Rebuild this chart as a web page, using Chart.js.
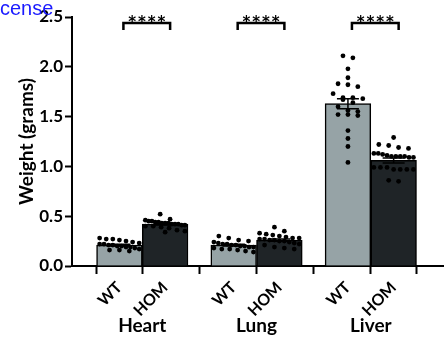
<!DOCTYPE html>
<html>
<head>
<meta charset="utf-8">
<script src="https://cdn.jsdelivr.net/npm/chart.js@4.4.1/dist/chart.umd.min.js"></script>
<style>
  html, body { margin: 0; padding: 0; background: #fff; }
  #wrap { position: relative; width: 447px; height: 339px; }
  #cut { position: absolute; left: 0; top: -3px; font: 20px "Liberation Sans", Arial, sans-serif; color: #1a1aff; }
</style>
</head>
<body>
<div id="wrap">
  <canvas id="organGraph" width="447" height="339"></canvas>
  <span id="cut">cense</span>
</div>
<script>
const organs = ["Heart", "Lung", "Liver"];
const genotypes = ["WT", "HOM"];
const wtMeans = [0.21, 0.21, 1.63];
const homMeans = [0.42, 0.26, 1.06];
const wtSem = [0.008, 0.009, 0.05];
const homSem = [0.009, 0.012, 0.025];
const yTicks = [0, 0.5, 1.0, 1.5, 2.0, 2.5];
const stars = ["****", "****", "****"];

const heartWt = [0.28, 0.27, 0.27, 0.26, 0.25, 0.24, 0.23, 0.22, 0.22, 0.21, 0.21, 0.20, 0.20, 0.19, 0.19, 0.18, 0.17, 0.16, 0.16, 0.15];
const heartHom = [0.52, 0.47, 0.46, 0.45, 0.45, 0.44, 0.44, 0.43, 0.43, 0.43, 0.42, 0.42, 0.42, 0.41, 0.41, 0.40, 0.40, 0.39, 0.38, 0.36, 0.35, 0.34];
const lungWt = [0.30, 0.28, 0.26, 0.25, 0.24, 0.23, 0.22, 0.22, 0.21, 0.21, 0.20, 0.20, 0.19, 0.19, 0.18, 0.17, 0.17, 0.16, 0.15, 0.14];
const lungHom = [0.39, 0.35, 0.33, 0.32, 0.31, 0.30, 0.29, 0.28, 0.28, 0.27, 0.27, 0.26, 0.26, 0.25, 0.25, 0.24, 0.23, 0.22, 0.21, 0.19, 0.18, 0.17];
const liverWt = [2.11, 2.09, 1.98, 1.89, 1.83, 1.82, 1.80, 1.73, 1.69, 1.69, 1.68, 1.67, 1.64, 1.60, 1.56, 1.55, 1.52, 1.52, 1.51, 1.36, 1.28, 1.20, 1.04];
const liverHom = [1.29, 1.22, 1.21, 1.19, 1.18, 1.13, 1.13, 1.12, 1.11, 1.10, 1.10, 1.10, 1.10, 1.09, 1.09, 0.99, 0.99, 0.99, 0.97, 0.97, 0.97, 0.97, 0.86, 0.85];

const wtDots = [heartWt, lungWt, liverWt];
const homDots = [heartHom, lungHom, liverHom];

// rough px per unit, only used to spread the dots sideways
const pxPerX = 115.5;
const pxPerY = 99.2;
const shift = 0.2; // half of a group, where each bar sits

function swarm(values, center) {
  const sorted = [...values].sort((a, b) => b - a);
  const rows = [];
  sorted.forEach(v => {
    const row = rows[rows.length - 1];
    if (row && (row[0] - v) * pxPerY < 5) row.push(v);
    else rows.push([v]);
  });
  const pts = [];
  rows.forEach(row => {
    const n = row.length;
    const step = n > 1 ? Math.min(10, 40 / (n - 1)) : 0;
    row.forEach((v, i) => {
      pts.push({ x: center + ((i - (n - 1) / 2) * step) / pxPerX, y: v });
    });
  });
  return pts;
}

const wtPoints = [].concat(...wtDots.map((d, i) => swarm(d, i - shift)));
const homPoints = [].concat(...homDots.map((d, i) => swarm(d, i + shift)));

const xMin = -0.615;
const xMax = 2.632;

const errorBars = {
  id: 'errorBars',
  afterDatasetsDraw(chart) {
    const c = chart.ctx;
    const y = chart.scales.y;
    [[0, wtMeans, wtSem], [1, homMeans, homSem]].forEach(([ds, means, sem]) => {
      chart.getDatasetMeta(ds).data.forEach((bar, i) => {
        const top = y.getPixelForValue(means[i] + sem[i]);
        const bot = y.getPixelForValue(means[i] - sem[i]);
        c.save();
        c.strokeStyle = '#000';
        c.lineWidth = 1.5;
        c.beginPath();
        c.moveTo(bar.x, top); c.lineTo(bar.x, bot);
        c.moveTo(bar.x - 11, top); c.lineTo(bar.x + 11, top);
        c.moveTo(bar.x - 11, bot); c.lineTo(bar.x + 11, bot);
        c.stroke();
        c.restore();
      });
    });
  }
};

const brackets = {
  id: 'brackets',
  afterDraw(chart) {
    const c = chart.ctx;
    const yLine = chart.scales.y.getPixelForValue(2.44);
    const wt = chart.getDatasetMeta(0).data;
    const hom = chart.getDatasetMeta(1).data;
    c.save();
    c.strokeStyle = '#000';
    c.lineWidth = 2.5;
    c.fillStyle = '#000';
    c.font = 'bold 15px "DejaVu Sans"';
    c.textAlign = 'center';
    c.textBaseline = 'alphabetic';
    organs.forEach((o, i) => {
      const a = wt[i].x + 4, b = hom[i].x + 5;
      c.beginPath();
      c.moveTo(a, yLine + 7); c.lineTo(a, yLine); c.lineTo(b, yLine); c.lineTo(b, yLine + 7);
      c.stroke();
      const mid = (a + b) / 2;
      [...stars[i]].forEach((s, k) => {
        c.fillText(s, mid + (k - 1.5) * 9.7, yLine + 4);
      });
    });
    c.restore();
  }
};

new Chart(document.getElementById('organGraph').getContext('2d'), {
  type: 'bar',
  data: {
    datasets: [
      {
        label: genotypes[0],
        data: wtMeans.map((v, i) => ({ x: i - shift, y: v })),
        backgroundColor: '#96a3a6',
        borderColor: '#000',
        borderWidth: 1.5,
        xAxisID: 'x',
        order: 2
      },
      {
        label: genotypes[1],
        data: homMeans.map((v, i) => ({ x: i + shift, y: v })),
        backgroundColor: '#1f2427',
        borderColor: '#000',
        borderWidth: 1.5,
        xAxisID: 'x',
        order: 2
      },
      {
        type: 'scatter',
        data: wtPoints,
        xAxisID: 'xg',
        pointRadius: 2.4,
        backgroundColor: '#000',
        borderWidth: 0,
        order: 1
      },
      {
        type: 'scatter',
        data: homPoints,
        xAxisID: 'xg',
        pointRadius: 2.4,
        backgroundColor: '#000',
        borderWidth: 0,
        order: 1
      }
    ]
  },
  options: {
    responsive: false,
    animation: false,
    layout: { padding: { top: 17, right: 0, left: 0, bottom: 0 } },
    datasets: {
      bar: { grouped: false, categoryPercentage: 1.0, barPercentage: 1.0 }
    },
    scales: {
      x: {
        type: 'linear',
        position: 'bottom',
        weight: 2,
        offset: false,
        min: xMin,
        max: xMax,
        afterBuildTicks: s => { s.ticks = organs.map((o, i) => ({ value: i })); },
        afterFit: s => { s.height = 22; },
        ticks: {
          callback: (v, i) => organs[i],
          color: '#000',
          padding: -3,
          autoSkip: false,
          maxRotation: 0,
          font: { family: 'Lato', weight: 'bold', size: 19 }
        },
        grid: { display: false, drawTicks: false, offset: false },
        border: { display: false }
      },
      xg: {
        type: 'linear',
        position: 'bottom',
        weight: 1,
        offset: false,
        min: xMin,
        max: xMax,
        afterBuildTicks: s => {
          s.ticks = [];
          organs.forEach((o, i) => {
            s.ticks.push({ value: i - shift }, { value: i + shift });
          });
        },
        afterFit: s => { s.height = 51; },
        ticks: {
          callback: (v, i) => genotypes[i % 2],
          color: '#000',
          padding: 4,
          autoSkip: false,
          minRotation: 45,
          maxRotation: 45,
          font: { family: 'Lato', weight: 'bold', size: 16 }
        },
        grid: { drawOnChartArea: false, tickLength: 8, tickWidth: 2, tickColor: '#000' },
        border: { display: true, color: '#000', width: 2 }
      },
      y: {
        min: 0,
        max: 2.5,
        afterBuildTicks: s => { s.ticks = yTicks.map(v => ({ value: v })); },
        afterFit: s => { s.width = 72; },
        ticks: {
          callback: v => v.toFixed(1),
          color: '#000',
          padding: 2,
          font: { family: 'Lato', weight: 'bold', size: 17 }
        },
        grid: { drawOnChartArea: false, tickLength: 7, tickWidth: 2, tickColor: '#000' },
        border: { display: true, color: '#000', width: 2 },
        title: {
          display: true,
          text: 'Weight (grams)',
          color: '#000',
          padding: { top: 15, bottom: 0 },
          font: { family: 'Lato', weight: 'bold', size: 19 }
        }
      }
    },
    plugins: {
      legend: { display: false },
      tooltip: { enabled: false }
    }
  },
  plugins: [errorBars, brackets]
});
</script>
</body>
</html>
